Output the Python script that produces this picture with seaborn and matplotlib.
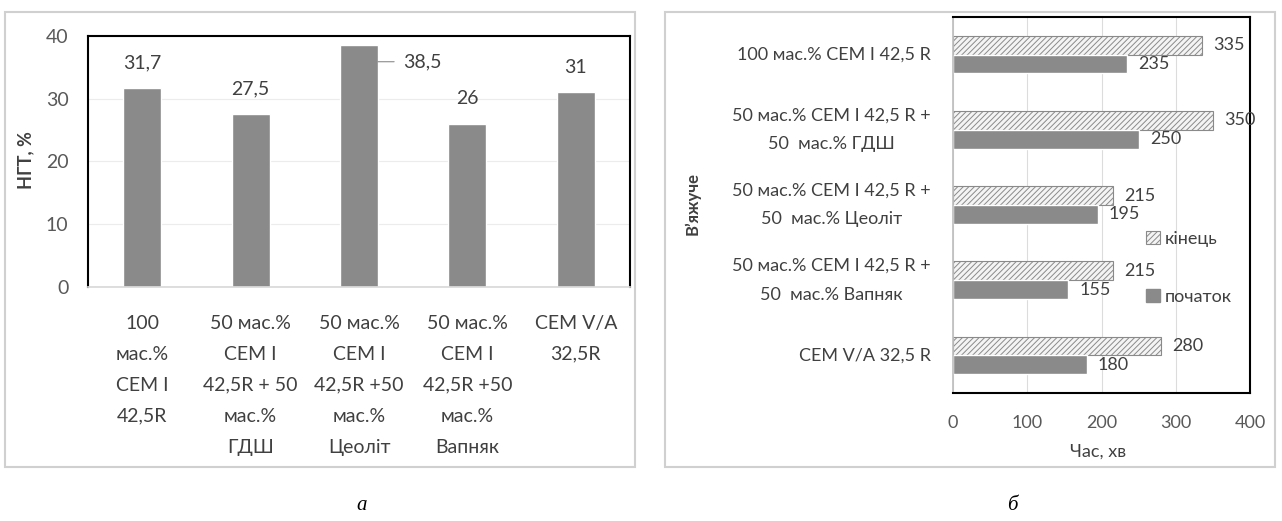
import numpy as np
import pandas as pd
import seaborn as sns
import matplotlib.pyplot as plt
from matplotlib.patches import Rectangle, Patch

# panel a: normal consistency of binders
binders_a = ["100\nмас.%\nCEM I\n42,5R",
             "50 мас.%\nCEM I\n42,5R + 50\nмас.%\nГДШ",
             "50 мас.%\nCEM I\n42,5R +50\nмас.%\nЦеоліт",
             "50 мас.%\nCEM I\n42,5R +50\nмас.%\nВапняк",
             "CEM V/A\n32,5R"]
ngt = [31.7, 27.5, 38.5, 26, 31]
ngt_labels = ["31,7", "27,5", "38,5", "26", "31"]

# panel б: setting time
binders_b = ["100 мас.% CEM I 42,5 R",
             "50 мас.% CEM I 42,5 R +\n50  мас.% ГДШ",
             "50 мас.% CEM I 42,5 R +\n50  мас.% Цеоліт",
             "50 мас.% CEM I 42,5 R +\n50  мас.% Вапняк",
             "CEM V/A 32,5 R"]
end_time = [335, 350, 215, 215, 280]
start_time = [235, 250, 195, 155, 180]
phases = ["кінець", "початок"]

sns.set_theme(style="white")
plt.rcParams['font.family'] = ['Lato', 'DejaVu Sans']
plt.rcParams['hatch.linewidth'] = 0.7

W, H = 1282, 521
TXT = '#404040'
TICK = '#595959'
BAR = '#8a8a8a'


def box(x0, y0, x1, y1):
    return [x0 / W, 1 - y1 / H, (x1 - x0) / W, (y1 - y0) / H]


fig = plt.figure(figsize=(W / 100, H / 100), dpi=100)

# panel frames
for x0, x1 in [(5, 635), (665, 1275)]:
    fig.patches.append(Rectangle((x0 / W, 1 - 467 / H), (x1 - x0) / W, 455 / H,
                                 transform=fig.transFigure, fill=False,
                                 edgecolor='#d0d0d0', lw=1.5))

# ---- a ----
ax1 = fig.add_axes(box(88, 36, 630, 287))
df_a = pd.DataFrame({'binder': binders_a, 'ngt': ngt})
sns.barplot(data=df_a, x='binder', y='ngt', color=BAR, saturation=1,
            width=0.35, ax=ax1)
ax1.set_ylim(0, 40)
ax1.set_xlim(-0.5, 4.5)
ax1.set_yticks(range(0, 41, 10))
ax1.set_xticks(range(len(binders_a)), labels=binders_a, linespacing=2.0)
ax1.yaxis.grid(True, color='#ececec', lw=0.8)
ax1.set_axisbelow(True)
ax1.tick_params(axis='y', length=0, pad=14, labelsize=14, labelcolor=TICK)
ax1.tick_params(axis='x', length=0, pad=20, labelsize=14, labelcolor=TXT)
ax1.set_xlabel('')
ax1.set_ylabel('НГТ, %', fontweight='bold', fontsize=13, color=TXT)
ax1.yaxis.set_label_coords(-0.1, 0.506)
for s in ['top', 'left', 'right']:
    ax1.spines[s].set_color('black')
    ax1.spines[s].set_linewidth(1.5)
ax1.spines['bottom'].set_color('#d9d9d9')

ax1.bar_label(ax1.containers[0],
              labels=[t if i != 2 else '' for i, t in enumerate(ngt_labels)],
              padding=12, fontsize=14, color=TXT)
ax1.annotate(ngt_labels[2], xy=(2 + 0.175, 35.9), xytext=(18, 0),
             textcoords='offset points', ha='left', va='center',
             fontsize=14, color=TXT,
             arrowprops=dict(arrowstyle='-', color='#8a8a8a', lw=0.8,
                             shrinkA=4, shrinkB=0))

# ---- б ----
ax2 = fig.add_axes(box(953, 17, 1250, 393))
df_b = pd.DataFrame({'binder': binders_b * 2,
                     'phase': [phases[0]] * 5 + [phases[1]] * 5,
                     'time': end_time + start_time})
sns.barplot(data=df_b, y='binder', x='time', hue='phase', hue_order=phases,
            orient='h', width=0.5, palette=['#f4f4f4', BAR], saturation=1,
            legend=False, ax=ax2)
for bar in ax2.containers[0]:
    bar.set_hatch('//////')
    bar.set_edgecolor('#8a8a8a')
    bar.set_linewidth(0.8)

ax2.set_xlim(0, 400)
ax2.set_xticks(range(0, 401, 100))
ax2.set_yticks(range(len(binders_b)), labels=binders_b,
               multialignment='center', linespacing=2.0, va='center')
ax2.xaxis.grid(True, color='#dcdcdc', lw=0.8)
ax2.set_axisbelow(True)
ax2.tick_params(axis='x', length=0, pad=16, labelsize=13, labelcolor=TICK)
ax2.tick_params(axis='y', length=0, pad=16, labelsize=13, labelcolor=TXT)
ax2.set_ylabel('В’яжуче', fontweight='bold', fontsize=12, color=TXT)
ax2.yaxis.set_label_coords(-0.85, 0.505)
ax2.set_xlabel('Час, хв', fontsize=13, color=TXT)
ax2.xaxis.set_label_coords(0.49, -0.135)
for s in ['top', 'bottom', 'right']:
    ax2.spines[s].set_color('black')
    ax2.spines[s].set_linewidth(1.5)
ax2.spines['left'].set_color('#bfbfbf')

for cont, vals in zip(ax2.containers, [end_time, start_time]):
    ax2.bar_label(cont, labels=[str(v) for v in vals], padding=8,
                  fontsize=13, color=TXT)

handles = [Patch(facecolor='#f4f4f4', edgecolor='#8a8a8a', hatch='//////', lw=0.8),
           Patch(facecolor=BAR, edgecolor=BAR)]
ax2.legend(handles, phases, loc='upper left', frameon=False,
           bbox_to_anchor=(1146 / W, 1 - 231 / H), bbox_transform=fig.transFigure,
           handlelength=0.75, handleheight=0.75, handletextpad=0.3,
           labelspacing=2.3, borderpad=0, borderaxespad=0,
           fontsize=13, labelcolor=TXT)

# panel letters
for x, t in [(362, 'а'), (1012, 'б')]:
    fig.text(x / W, 1 - 505 / H, t, family='Liberation Serif', style='italic',
             fontsize=15, ha='center', va='center', color='black')

fig.savefig('out.png', dpi=100)
